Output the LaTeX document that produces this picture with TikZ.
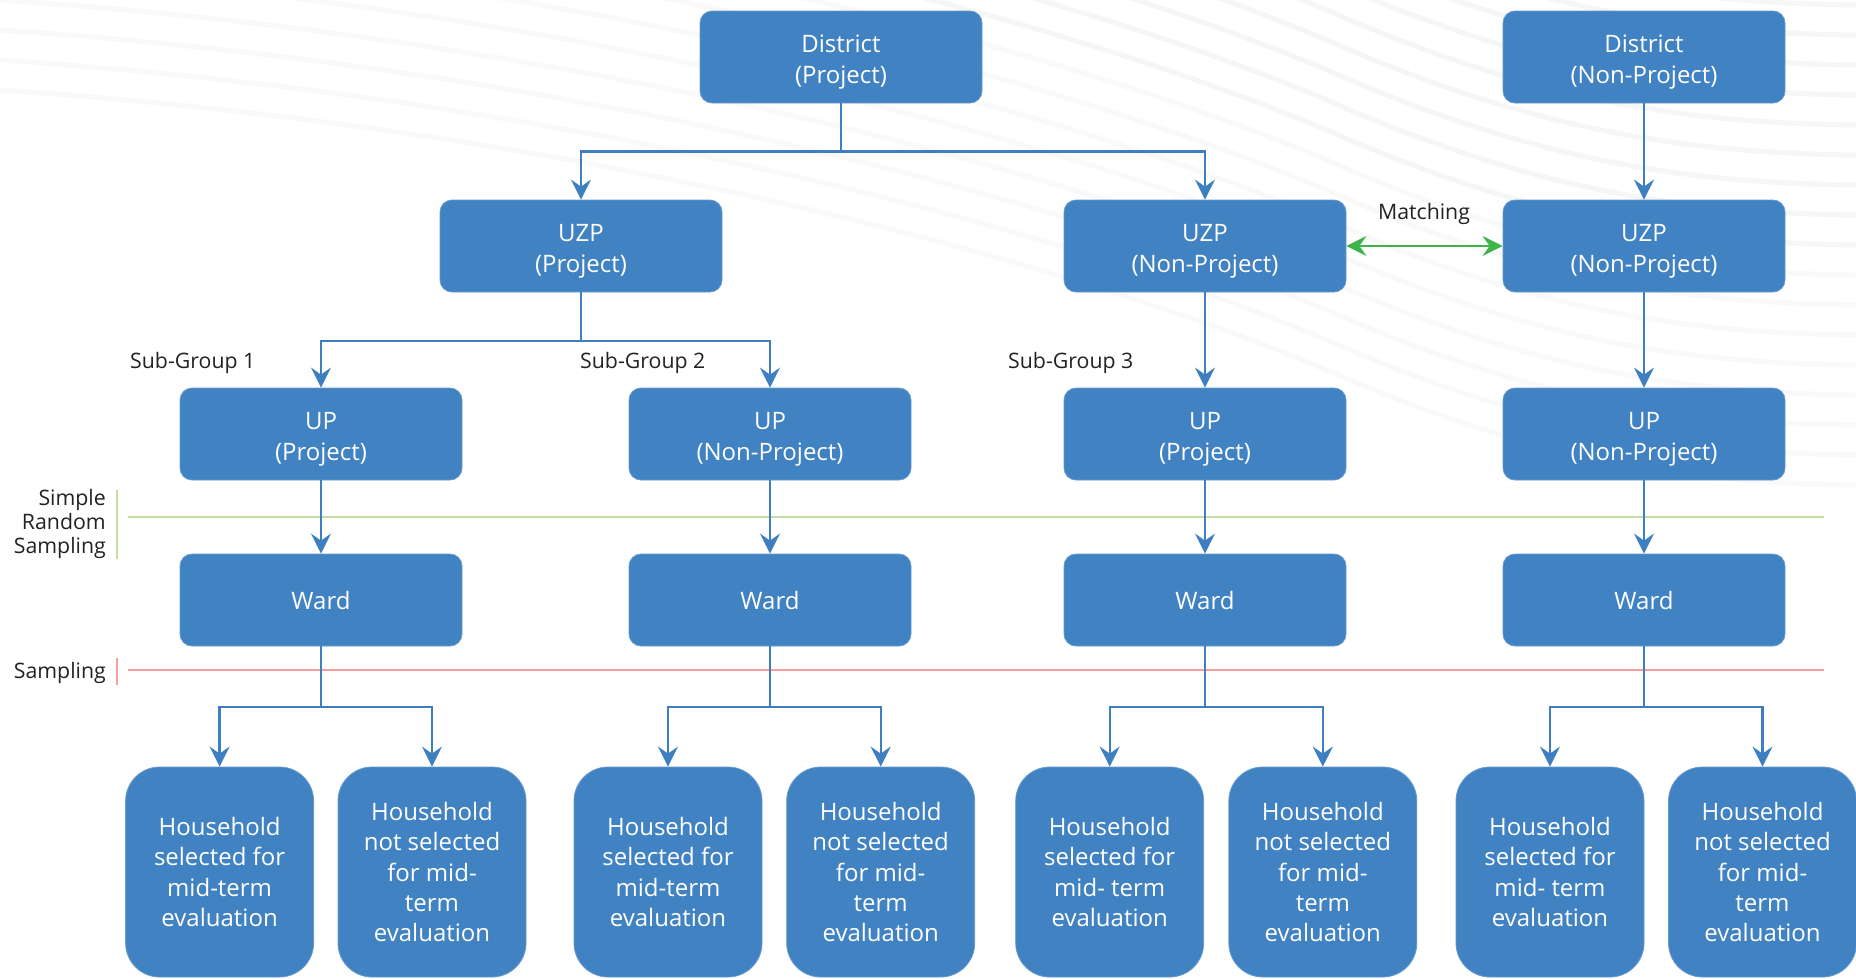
\documentclass[tikz,border=0pt]{standalone}
\usepackage{fontspec}
\setmainfont{Open Sans}
\usetikzlibrary{arrows.meta}
\definecolor{boxblue}{RGB}{65,130,194}
\definecolor{lineblue}{RGB}{62,127,193}
\definecolor{matchgreen}{RGB}{59,181,74}
\definecolor{srsgreen}{RGB}{197,221,160}
\definecolor{samplered}{RGB}{244,160,154}
\definecolor{labeltext}{RGB}{34,34,34}
\definecolor{swirl}{RGB}{245,246,246}
\definecolor{swirllight}{RGB}{249,249,249}
\newcommand\tstrut{\rule{0pt}{28pt}}
\tikzset{
  bx/.style={rectangle, rounded corners=12pt, fill=boxblue, draw=boxblue!80!white, line width=0.8pt,
    text=white, minimum width=282pt, minimum height=92pt, inner sep=0pt, align=center,
    font=\fontsize{24}{30.5}\selectfont},
  hh/.style={rectangle, rounded corners=34pt, fill=boxblue, draw=boxblue!80!white, line width=0.8pt,
    text=white, minimum width=188pt, minimum height=210pt, inner sep=0pt, align=center,
    font=\fontsize{24}{30.3}\selectfont},
  tip/.tip={Stealth[length=20pt,width=20pt,inset=7pt]},
  conn/.style={draw=lineblue, line width=2.3pt, -tip},
  plain/.style={draw=lineblue, line width=2.3pt},
  match/.style={draw=matchgreen, line width=2.6pt, tip-tip},
  lbl/.style={text=labeltext, inner sep=0pt, font=\fontsize{21.3}{24}\selectfont},
}
\begin{document}
\begin{tikzpicture}[x=1pt,y=-1pt]
\useasboundingbox[fill=white] (0,0) rectangle (1856,978);

% faint background swirls
\begin{scope}
\clip (0,0) rectangle (1856,978);
\foreach \d in {-480,-450,...,-150}{
  \draw[swirl, line width=5pt] (0,\d) .. controls (600,40+\d) and (1100,180+\d) .. (1350,290+\d)
     .. controls (1550,375+\d) and (1700,393+\d) .. (1856,395+\d);
}
\foreach \d in {-120,-90,...,90}{
  \draw[swirllight, line width=5pt] (0,\d) .. controls (600,40+\d) and (1100,180+\d) .. (1350,290+\d)
     .. controls (1550,375+\d) and (1700,393+\d) .. (1856,395+\d);
}
\end{scope}

% sampling lines
\draw[srsgreen, line width=2.2pt] (128,517) -- (1824,517);
\draw[srsgreen, line width=2.2pt] (117,490) -- (117,559);
\draw[samplered, line width=2.2pt] (128,670) -- (1824,670);
\draw[samplered, line width=2.2pt] (117,658) -- (117,685);
\node[lbl, align=right, anchor=east] (srs) at (106,524) {Simple\\Random\\Sampling};
\node[lbl, anchor=east] (smp) at (106,673) {Sampling};

% boxes
\node[bx] (dp) at (841,57) {\tstrut District\\(Project)};
\node[bx] (dn) at (1644,57) {\tstrut District\\(Non-Project)};
\node[bx] (zp) at (581,246) {\tstrut UZP\\(Project)};
\node[bx] (zn) at (1205,246) {\tstrut UZP\\(Non-Project)};
\node[bx] (zn2) at (1644,246) {\tstrut UZP\\(Non-Project)};
\node[bx] (u1) at (321,434) {\tstrut UP\\(Project)};
\node[bx] (u2) at (770,434) {\tstrut UP\\(Non-Project)};
\node[bx] (u3) at (1205,434) {\tstrut UP\\(Project)};
\node[bx] (u4) at (1644,434) {\tstrut UP\\(Non-Project)};
\node[bx] (w1) at (321,600) {Ward};
\node[bx] (w2) at (770,600) {Ward};
\node[bx] (w3) at (1205,600) {Ward};
\node[bx] (w4) at (1644,600) {Ward};

\node[hh] (h1) at (219.6,872) {Household\\selected for\\mid-term\\evaluation};
\node[hh] (h2) at (432,872) {Household\\not selected\\for mid-\\term\\evaluation};
\node[hh] (h3) at (668,872) {Household\\selected for\\mid-term\\evaluation};
\node[hh] (h4) at (880.7,872) {Household\\not selected\\for mid-\\term\\evaluation};
\node[hh] (h5) at (1109.7,872) {Household\\selected for\\mid- term\\evaluation};
\node[hh] (h6) at (1322.8,872) {Household\\not selected\\for mid-\\term\\evaluation};
\node[hh] (h7) at (1550,872) {Household\\selected for\\mid- term\\evaluation};
\node[hh] (h8) at (1762.5,872) {Household\\not selected\\for mid-\\term\\evaluation};

% labels
\node[lbl, anchor=west] (sg1) at (130,363) {Sub-Group 1};
\node[lbl, anchor=west] (sg2) at (580,363) {Sub-Group 2};
\node[lbl, anchor=west] (sg3) at (1008,363) {Sub-Group 3};
\node[lbl] (mt) at (1424,214) {Matching};

% connectors
\coordinate (b0) at (841,151.5);
\draw[plain] (dp.south) -- (b0);
\draw[conn] (b0) -| (zp.north);
\draw[conn] (b0) -| (zn.north);
\draw[conn] (dn.south) -- (zn2.north);
\draw[match] (zn.east) -- (zn2.west);

\coordinate (b1) at (581,341);
\draw[plain] (zp.south) -- (b1);
\draw[conn] (b1) -| (u1.north);
\draw[conn] (b1) -| (u2.north);
\draw[conn] (zn.south) -- (u3.north);
\draw[conn] (zn2.south) -- (u4.north);

\draw[conn] (u1.south) -- (w1.north);
\draw[conn] (u2.south) -- (w2.north);
\draw[conn] (u3.south) -- (w3.north);
\draw[conn] (u4.south) -- (w4.north);

\coordinate (c1) at (321,707);
\coordinate (c2) at (770,707);
\coordinate (c3) at (1205,707);
\coordinate (c4) at (1644,707);
\draw[plain] (w1.south) -- (c1);
\draw[plain] (w2.south) -- (c2);
\draw[plain] (w3.south) -- (c3);
\draw[plain] (w4.south) -- (c4);
\draw[conn] (c1) -| (h1.north);
\draw[conn] (c1) -| (h2.north);
\draw[conn] (c2) -| (h3.north);
\draw[conn] (c2) -| (h4.north);
\draw[conn] (c3) -| (h5.north);
\draw[conn] (c3) -| (h6.north);
\draw[conn] (c4) -| (h7.north);
\draw[conn] (c4) -| (h8.north);
\end{tikzpicture}
\end{document}
